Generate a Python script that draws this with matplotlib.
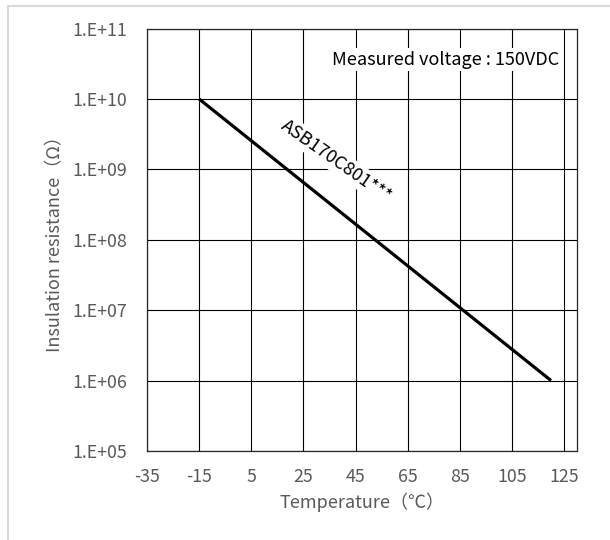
import matplotlib.pyplot as plt
from matplotlib.lines import Line2D
from matplotlib.ticker import FixedLocator, FixedFormatter

plt.rcParams['font.family'] = ['Noto Sans CJK JP', 'DejaVu Sans']
plt.rcParams['axes.unicode_minus'] = False

# data
temp = [-15, 120]
resistance = [1e10, 1e6]
x_ticks = [-35, -15, 5, 25, 45, 65, 85, 105, 125]
y_ticks = [1e5, 1e6, 1e7, 1e8, 1e9, 1e10, 1e11]
y_labels = ["1.E+05", "1.E+06", "1.E+07", "1.E+08", "1.E+09", "1.E+10", "1.E+11"]

FS = 12.5
GREY = "#595959"

fig = plt.figure(figsize=(6.1, 5.4), dpi=100)
ax = fig.add_axes([0.241, 0.165, 0.705, 0.782])

ax.plot(temp, resistance, color="black", lw=2.3, zorder=3, solid_capstyle="butt")

ax.set_yscale("log")
ax.set_xlim(-35, 130)
ax.set_ylim(1e5, 1e11)
ax.xaxis.set_major_locator(FixedLocator(x_ticks))
ax.yaxis.set_major_locator(FixedLocator(y_ticks))
ax.yaxis.set_major_formatter(FixedFormatter(y_labels))
ax.yaxis.set_minor_locator(FixedLocator([]))
ax.grid(True, color="black", lw=0.8)
ax.set_axisbelow(True)
ax.tick_params(length=0, labelsize=FS + 0.3, labelcolor=GREY)
ax.tick_params(axis="x", pad=12)
ax.tick_params(axis="y", pad=14)
for s in ax.spines.values():
    s.set_color("#262626")
    s.set_linewidth(0.9)

ax.set_xlabel("Temperature（℃）", fontsize=FS + 0.5, color=GREY, labelpad=5)
ax.set_ylabel("Insulation resistance（Ω）", fontsize=FS + 0.5, color=GREY, labelpad=6)

ax.text(123, 10**10.56, "Measured voltage : 150VDC", ha="right", va="center",
        fontsize=FS + 0.5, color="black", zorder=4,
        bbox=dict(facecolor="white", edgecolor="none", pad=2))
ax.text(37.6, 10**9.12, "ASB170C801***", ha="center", va="center", rotation=-35,
        fontsize=FS + 0.5, color="black", zorder=4, rotation_mode="anchor",
        bbox=dict(facecolor="white", edgecolor="none", pad=2))

# light frame around the chart area (top and left edges)
fig.add_artist(Line2D([8 / 610, 1], [1 - 6 / 540, 1 - 6 / 540], color="#d9d9d9", lw=1.5,
                      transform=fig.transFigure))
fig.add_artist(Line2D([8 / 610, 8 / 610], [0, 1 - 6 / 540], color="#d9d9d9", lw=1.5,
                      transform=fig.transFigure))

fig.savefig("out.png", dpi=100)
